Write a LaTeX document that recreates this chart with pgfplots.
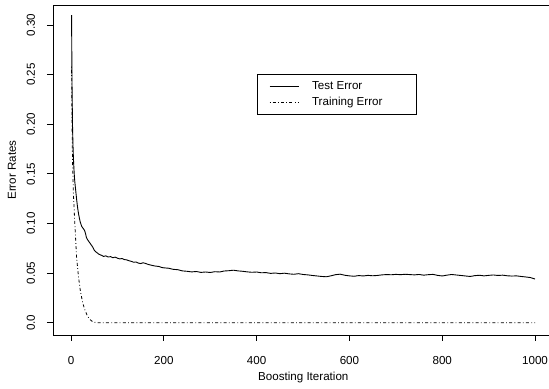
\documentclass[border=0pt]{standalone}
\usepackage{fontspec}
\setmainfont{Liberation Sans}
\usepackage{pgfplots}
\pgfplotsset{compat=1.18}
\pgfplotstableread{
iter err
1 0.310
2 0.240
3 0.200
4 0.180
5 0.166
6 0.156
7 0.148
8 0.142
10 0.133
12 0.124
14 0.116
16 0.110
18 0.105
20 0.101
23 0.097
26 0.095
29 0.093
31 0.090
33 0.086
35 0.084
38 0.082
41 0.080
44 0.078
47 0.076
50 0.073
53 0.0715
56 0.0705
60 0.0690
65 0.0680
70 0.0668
75 0.0674
80 0.0662
85 0.0666
90 0.0655
95 0.0661
100 0.0650
105 0.0643
110 0.0647
115 0.0636
120 0.0633
125 0.0624
130 0.0618
135 0.0609
140 0.0612
145 0.0601
150 0.0596
155 0.0604
160 0.0598
165 0.0589
170 0.0583
175 0.0577
180 0.0572
185 0.0569
190 0.0566
195 0.0557
200 0.0553
210 0.0549
220 0.0538
230 0.0534
240 0.0522
250 0.0518
260 0.0512
270 0.0516
280 0.0507
290 0.0511
300 0.0506
310 0.0514
320 0.0511
330 0.0521
340 0.0524
350 0.0529
360 0.0522
370 0.0518
380 0.0512
390 0.0508
400 0.0511
410 0.0503
420 0.0505
430 0.0497
440 0.0501
450 0.0494
460 0.0499
470 0.0492
480 0.0488
490 0.0494
500 0.0486
510 0.0482
520 0.0476
530 0.0471
540 0.0466
550 0.0463
560 0.0472
570 0.0484
580 0.0489
590 0.0478
600 0.0472
610 0.0468
620 0.0475
630 0.0471
640 0.0477
650 0.0473
660 0.0476
670 0.0482
680 0.0485
690 0.0483
700 0.0487
710 0.0484
720 0.0488
730 0.0485
740 0.0482
750 0.0486
760 0.0479
770 0.0484
780 0.0487
790 0.0477
800 0.0471
810 0.0479
820 0.0486
830 0.0481
840 0.0476
850 0.0471
860 0.0466
870 0.0474
880 0.0478
890 0.0472
900 0.0477
910 0.0481
920 0.0476
930 0.0479
940 0.0473
950 0.0470
960 0.0472
970 0.0466
980 0.0461
990 0.0455
1000 0.0440
}\testerr
\pgfplotstableread{
iter err
1 0.258
2 0.200
3 0.165
5 0.130
8 0.100
12 0.065
16 0.046
20 0.032
25 0.020
30 0.0125
35 0.0070
40 0.0035
45 0.0015
50 0.0005
55 0.0
1000 0.0
}\trainerr
\begin{document}
\fontsize{11.6bp}{14bp}\selectfont
\begin{tikzpicture}
\useasboundingbox (0,0) rectangle (549bp,389bp);
\clip (0,0) rectangle (549bp,389bp);
\begin{axis}[
  scale only axis,
  width=500.6bp, height=330bp,
  at={(53bp,54bp)}, anchor=south west,
  xmin=-39, xmax=1040, ymin=-0.0124, ymax=0.3202,
  axis line style={line width=0.8bp},
  tick style={black, line width=0.8bp},
  tick align=outside, major tick length=6bp,
  xtick pos=bottom, ytick pos=left,
  xtick={0,200,400,600,800,1000},
  xticklabels={0,200,400,600,800,1000},
  ytick={0,0.05,0.10,0.15,0.20,0.25,0.30},
  yticklabels={0.0,0.05,0.10,0.15,0.20,0.25,0.30},
  yticklabel style={rotate=90, anchor=center},
  xticklabel style={anchor=center},
  yticklabel shift=16bp,
  xticklabel shift=20bp,
  xlabel={Boosting Iteration},
  ylabel={Error Rates},
  xlabel style={at={(axis description cs:0.5,-0.1303)}, anchor=center},
  ylabel style={at={(axis description cs:-0.0819,0.5)}, anchor=center},
  legend style={at={(axis description cs:0.407,0.791)}, anchor=north west,
    draw=black, line width=0.8bp, inner xsep=12bp, inner ysep=5bp,
    row sep=2.3bp, cells={anchor=west},
    /tikz/every odd column/.append style={column sep=11bp}},
  legend cell align=left,
  legend image code/.code={\draw[#1] (0bp,0bp) -- (29bp,0bp);},
]
\addplot[black, line width=0.9bp] table[x=iter, y=err] {\testerr};
\addlegendentry{\makebox[90bp][l]{Test Error}}
\addplot[black, line width=0.8bp, dash pattern=on 0.8bp off 2.3bp on 3bp off 2.3bp] table[x=iter, y=err] {\trainerr};
\addlegendentry{\makebox[90bp][l]{Training Error}}
\end{axis}
\end{tikzpicture}
\end{document}
